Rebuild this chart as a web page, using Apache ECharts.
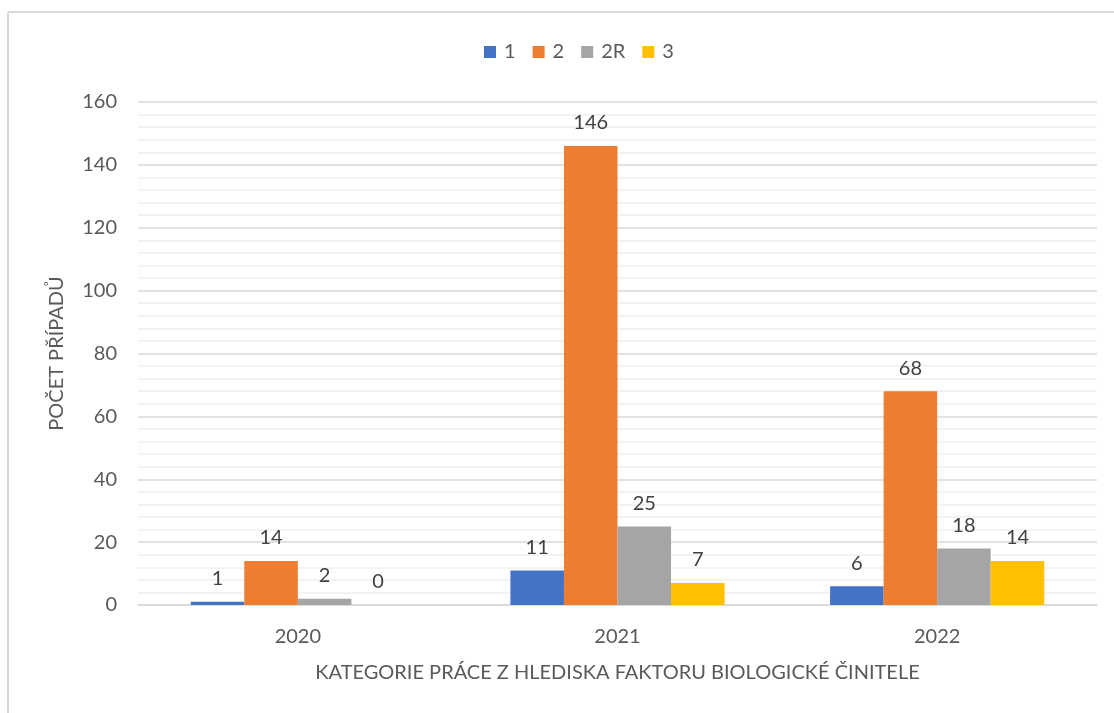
<!DOCTYPE html>
<html>
<head>
<meta charset="utf-8">
<script src="https://cdn.jsdelivr.net/npm/echarts@6/dist/echarts.min.js"></script>
<style>
  html, body { margin: 0; padding: 0; background: #fff; }
  #main { width: 1114px; height: 713px; }
</style>
</head>
<body>
<div id="main"></div>
<script>
// roky a hodnoty podle kategorii
var years = ['2020', '2021', '2022'];
var kat1 = [1, 11, 6];
var kat2 = [14, 146, 68];
var kat2R = [2, 25, 18];
var kat3 = [0, 7, 14];
var seriesNames = ['1', '2', '2R', '3'];
var colors = ['#4472C4', '#ED7D31', '#A5A5A5', '#FFC000'];

var font = 'Lato';
var fs = 20;
var chart = echarts.init(document.getElementById('main'));

function bar(name, data, color) {
  return {
    name: name,
    type: 'bar',
    data: data,
    barGap: '0%',
    barCategoryGap: '33%',
    itemStyle: { color: color },
    label: {
      show: true,
      position: 'top',
      distance: 13,
      color: '#404040',
      fontSize: fs,
      fontFamily: font
    }
  };
}

var option = {
  animation: false,
  color: colors,
  legend: {
    top: 37,
    left: 479,
    itemWidth: 12,
    itemHeight: 12,
    itemGap: 17,
    icon: 'rect',
    textStyle: { fontSize: fs, color: '#595959', fontFamily: font, padding: [0, 0, 0, 3] }
  },
  grid: { left: 138, right: 17, top: 102, bottom: 108 },
  xAxis: {
    type: 'category',
    data: years,
    axisTick: { show: false },
    axisLine: { lineStyle: { color: '#d9d9d9', width: 1.5 } },
    axisLabel: { fontSize: fs, color: '#595959', margin: 22, fontFamily: font },
    name: 'KATEGORIE PRÁCE Z HLEDISKA FAKTORU BIOLOGICKÉ ČINITELE',
    nameLocation: 'middle',
    nameGap: 58,
    nameTextStyle: { fontSize: fs, color: '#595959', fontFamily: font }
  },
  yAxis: {
    type: 'value',
    min: 0,
    max: 160,
    interval: 20,
    axisLine: { show: false },
    axisTick: { show: false },
    axisLabel: { fontSize: fs, color: '#595959', margin: 21, fontFamily: font },
    splitLine: { lineStyle: { color: '#d9d9d9', width: 1.5 } },
    minorTick: { show: false, splitNumber: 5 },
    minorSplitLine: { show: true, lineStyle: { color: '#f0f0f0', width: 1.5 } },
    name: 'POČET PŘÍPADŮ',
    nameLocation: 'middle',
    nameGap: 71,
    nameTextStyle: { fontSize: fs, color: '#595959', fontFamily: font }
  },
  graphic: [
    { type: 'line', shape: { x1: 8, y1: 12, x2: 8, y2: 713 }, style: { stroke: '#d9d9d9', lineWidth: 2 }, silent: true },
    { type: 'line', shape: { x1: 8, y1: 12, x2: 1114, y2: 12 }, style: { stroke: '#d9d9d9', lineWidth: 2 }, silent: true }
  ],
  series: [
    bar(seriesNames[0], kat1, colors[0]),
    bar(seriesNames[1], kat2, colors[1]),
    bar(seriesNames[2], kat2R, colors[2]),
    bar(seriesNames[3], kat3, colors[3])
  ]
};
chart.setOption(option);
</script>
</body>
</html>
